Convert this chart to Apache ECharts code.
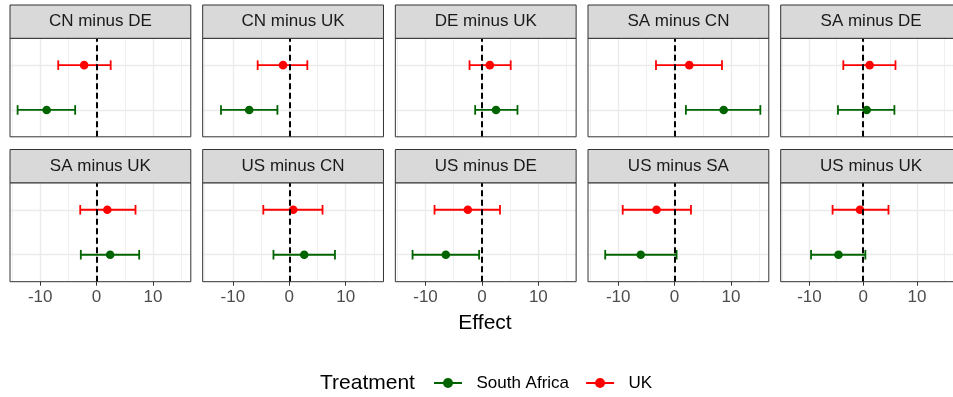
<!DOCTYPE html>
<html><head><meta charset="utf-8">
<script src="https://cdn.jsdelivr.net/npm/echarts@6/dist/echarts.min.js"></script>
<style>html,body{margin:0;padding:0;background:#fff}#c{width:953px;height:397px}</style>
</head><body><div id="c"></div>
<script>
// ---- data ----
const panels = ['CN minus DE','CN minus UK','DE minus UK','SA minus CN','SA minus DE','SA minus UK','US minus CN','US minus DE','US minus SA','US minus UK'];
const treatments = ['South Africa','UK'];
const ukEst  = [-2.2, -1.1, 1.4, 2.6, 1.2, 1.9, 0.7, -2.5, -3.2, -0.6];
const ukLow  = [-6.8, -5.6, -2.2, -3.3, -3.7, -2.9, -4.6, -8.4, -9.2, -5.7];
const ukHigh = [2.5, 3.2, 5.1, 8.4, 6.0, 6.9, 5.9, 3.2, 2.9, 4.7];
const saEst  = [-8.85, -7.1, 2.5, 8.7, 0.65, 2.4, 2.65, -6.4, -6.0, -4.6];
const saLow  = [-14.0, -12.1, -1.2, 2.0, -4.7, -2.8, -2.8, -12.3, -12.3, -9.7];
const saHigh = [-3.8, -2.1, 6.3, 15.2, 5.8, 7.55, 8.1, -0.5, 0.35, 0.4];
const xTicks = [-10, 0, 10];
const xMinor = [-15, -5, 5, 15];
const refLine = 0;

// ---- style / layout ----
const FONT = 'Liberation Sans, Arial, Helvetica, sans-serif';
const colors = {'South Africa': '#006400', 'UK': '#FF0000'};
const X_MIN = -15.35, X_MAX = 16.7;
const W = 180.8, LEFT0 = 10, STEP = 192.67;
const rowTop = [38.3, 182.8], rowH = [98.5, 98.9], stripH = 33.3;

const grids = [], xAxes = [], yAxes = [], series = [], graphics = [];

function renderErr(params, api) {
  const y = api.value(3);
  const lo = api.coord([api.value(0), y]);
  const mid = api.coord([api.value(1), y]);
  const hi = api.coord([api.value(2), y]);
  const c = api.visual('color');
  const cap = 4.8, lw = 1.8;
  return {type: 'group', children: [
    {type: 'line', shape: {x1: lo[0], y1: lo[1], x2: hi[0], y2: hi[1]}, style: {stroke: c, lineWidth: lw}},
    {type: 'line', shape: {x1: lo[0], y1: lo[1] - cap, x2: lo[0], y2: lo[1] + cap}, style: {stroke: c, lineWidth: lw}},
    {type: 'line', shape: {x1: hi[0], y1: hi[1] - cap, x2: hi[0], y2: hi[1] + cap}, style: {stroke: c, lineWidth: lw}},
    {type: 'circle', shape: {cx: mid[0], cy: mid[1], r: 4.3}, style: {fill: c}}
  ]};
}

panels.forEach((p, i) => {
  const row = Math.floor(i / 5), col = i % 5;
  const left = LEFT0 + col * STEP, top = rowTop[row], h = rowH[row];
  grids.push({left: left, top: top, width: W, height: h, show: false, containLabel: false});
  xAxes.push({
    type: 'value', gridIndex: i, min: X_MIN, max: X_MAX,
    axisLine: {show: false}, splitLine: {show: false},
    axisTick: {show: row === 1, customValues: xTicks, length: 4, lineStyle: {color: '#333333', width: 1}},
    axisLabel: {show: row === 1, customValues: xTicks, fontSize: 17, color: '#4D4D4D', margin: 7, fontFamily: FONT}
  });
  yAxes.push({type: 'value', gridIndex: i, min: 0.4, max: 2.6, show: false});

  const gl = [];
  xTicks.forEach(v => gl.push({xAxis: v, lineStyle: {color: '#EBEBEB', width: 1.4, type: 'solid'}}));
  xMinor.forEach(v => gl.push({xAxis: v, lineStyle: {color: '#EBEBEB', width: 0.8, type: 'solid'}}));
  treatments.forEach((t, k) => gl.push({yAxis: k + 1, lineStyle: {color: '#EBEBEB', width: 1.4, type: 'solid'}}));
  series.push({type: 'line', name: 'grid' + i, xAxisIndex: i, yAxisIndex: i, data: [], z: 1, silent: true,
    markLine: {z: 1, silent: true, symbol: 'none', animation: false, label: {show: false}, data: gl}});

  treatments.forEach((t, k) => {
    const lo = t === 'UK' ? ukLow[i] : saLow[i];
    const est = t === 'UK' ? ukEst[i] : saEst[i];
    const hi = t === 'UK' ? ukHigh[i] : saHigh[i];
    series.push({type: 'custom', name: t, xAxisIndex: i, yAxisIndex: i, z: 3,
      itemStyle: {color: colors[t]}, renderItem: renderErr,
      encode: {x: [0, 1, 2], y: 3},
      data: [[lo, est, hi, k + 1]]});
  });

  series.push({type: 'line', name: 'ref' + i, xAxisIndex: i, yAxisIndex: i, data: [], z: 10, silent: true,
    markLine: {z: 10, silent: true, symbol: 'none', animation: false, label: {show: false},
      data: [{xAxis: refLine, lineStyle: {color: '#000', width: 2, type: [6, 3.5]}}]}});

  // panel border
  graphics.push({type: 'rect', z: 100, shape: {x: left, y: top, width: W, height: h},
    style: {fill: 'none', stroke: '#333333', lineWidth: 1}});
  // strip
  graphics.push({type: 'rect', z: 100, shape: {x: left, y: top - stripH, width: W, height: stripH},
    style: {fill: '#D9D9D9', stroke: '#333333', lineWidth: 1}});
  graphics.push({type: 'text', z: 101, x: left + W / 2, y: top - stripH / 2,
    style: {text: p, fontSize: 17, fontFamily: FONT, fill: '#1A1A1A', align: 'center', verticalAlign: 'middle', textAlign: 'center', textVerticalAlign: 'middle'}});
});

graphics.push({type: 'text', x: 485, y: 323,
  style: {text: 'Effect', fontSize: 21, fontFamily: FONT, fill: '#000', align: 'center', verticalAlign: 'middle', textAlign: 'center', textVerticalAlign: 'middle'}});
graphics.push({type: 'text', x: 320, y: 383,
  style: {text: 'Treatment', fontSize: 21, fontFamily: FONT, fill: '#000', align: 'left', verticalAlign: 'middle', textAlign: 'left', textVerticalAlign: 'middle'}});

const iconPath = 'path://M0,4.1h28v1.8h-28z M9,5a5,5 0 1,1 10,0a5,5 0 1,1 -10,0z';

const chart = echarts.init(document.getElementById('c'), null, {renderer: 'canvas'});
chart.setOption({
  animation: false,
  backgroundColor: '#fff',
  grid: grids, xAxis: xAxes, yAxis: yAxes, series: series,
  graphic: {elements: graphics},
  legend: {
    left: 434, top: 374.5, padding: 0, orient: 'horizontal', itemWidth: 28, itemHeight: 10, itemGap: 17,
    selectedMode: false,
    textStyle: {fontSize: 17, color: '#000', fontFamily: FONT},
    formatter: n => '  ' + n,
    data: treatments.map(n => ({name: n, icon: iconPath, itemStyle: {color: colors[n]}}))
  }
});
</script></body></html>
